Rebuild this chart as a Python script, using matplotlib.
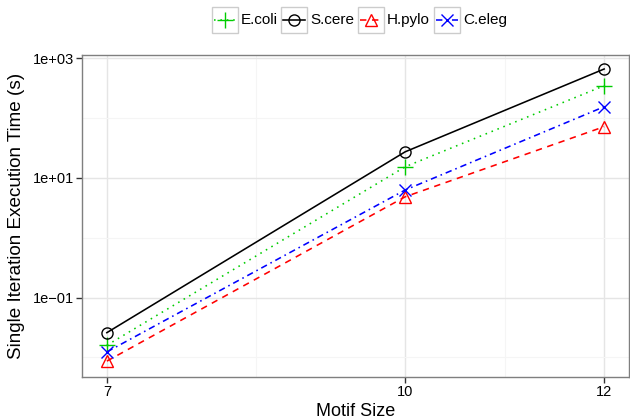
import matplotlib
matplotlib.use("Agg")
import matplotlib.pyplot as plt
from matplotlib.lines import Line2D
from matplotlib.patches import Rectangle
from matplotlib.ticker import FixedLocator, NullFormatter

plt.rcParams['font.family'] = ['Liberation Sans', 'DejaVu Sans']

# data
motif_size = [7, 10, 12]
names = ['E.coli', 'S.cere', 'H.pylo', 'C.eleg']
ecoli = [0.016, 15.4, 348]
scere = [0.026, 27.4, 662]
hpylo = [0.0087, 4.85, 72]
celeg = [0.0124, 6.3, 155]
series = [ecoli, scere, hpylo, celeg]

colors = ['#00CD00', 'black', 'red', 'blue']
markers = ['+', 'o', '^', 'x']
dashes = [(1, 3), (), (4, 3.5), (4, 2.5, 1, 2.5)]
msizes = [11, 8, 9, 8]

fig = plt.figure(figsize=(6.3, 4.2), dpi=100)
ax = fig.add_axes([82/630, 1 - 377/420, 547/630, 322/420])

for vals, c, m, d, ms in zip(series, colors, markers, dashes, msizes):
    ln, = ax.plot(motif_size, vals, color=c, lw=1.15, marker=m, ms=ms,
                  mfc='none', mec=c, mew=1.0, zorder=3)
    if d:
        ln.set_dashes(d)

ax.set_yscale('log')
ax.set_xlim(6.75, 12.25)
ax.set_ylim(10**-2.326, 10**3.055)
ax.set_xticks([7, 10, 12])
ax.xaxis.set_minor_locator(FixedLocator([8.5, 11]))
ax.set_yticks([1e-1, 1e1, 1e3])
ax.set_yticklabels(['1e\u221201', '1e+01', '1e+03'])
ax.yaxis.set_minor_locator(FixedLocator([1e-2, 1, 1e2]))
ax.yaxis.set_minor_formatter(NullFormatter())

ax.grid(True, which='major', color='#E5E5E5', lw=1.0, zorder=0)
ax.grid(True, which='minor', color='#F5F5F5', lw=0.8, zorder=0)
ax.set_axisbelow(True)
ax.tick_params(which='major', length=4, width=1, color='#333333',
               labelsize=10.5, labelcolor='black', pad=2)
ax.tick_params(which='minor', length=0)
for s in ax.spines.values():
    s.set_color('#7F7F7F')
    s.set_linewidth(1.0)

ax.set_xlabel('Motif Size', fontsize=13)
ax.set_ylabel('Single Iteration Execution Time (s)', fontsize=13.6)
ax.xaxis.set_label_coords(0.5, (377 - 412) / 322)
ax.xaxis.label.set_va('center')
ax.yaxis.set_label_coords((17 - 82) / 547, 0.5)
ax.yaxis.label.set_va('center')

# legend across the top, keys drawn in grey boxes
box_x = [212, 281, 358, 434]
box_w, box_h, yc = 26, 25, 20
for name, c, m, d, ms, bx in zip(names, colors, markers, dashes, msizes, box_x):
    fig.add_artist(Rectangle((bx / 630, 1 - (yc + box_h / 2) / 420),
                             box_w / 630, box_h / 420, transform=fig.transFigure,
                             fc='white', ec='#CCCCCC', lw=1.0))
    key = Line2D([(bx + 2) / 630, (bx + box_w - 2) / 630],
                 [1 - yc / 420, 1 - yc / 420], transform=fig.transFigure,
                 color=c, lw=1.15)
    if d:
        key.set_dashes(d)
    fig.add_artist(key)
    fig.add_artist(Line2D([(bx + box_w / 2) / 630], [1 - yc / 420],
                          transform=fig.transFigure, ls='none', marker=m,
                          ms=ms, mfc='none', mec=c, mew=1.0))
    fig.text((bx + box_w + 3) / 630, 1 - yc / 420, name, fontsize=11,
             va='center', ha='left')

fig.savefig('out.png', dpi=100)
